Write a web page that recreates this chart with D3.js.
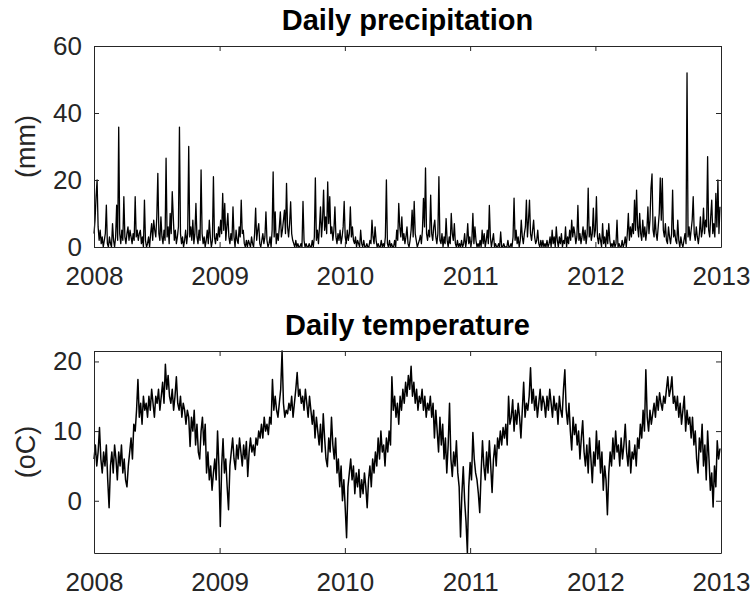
<!DOCTYPE html>
<html>
<head>
<meta charset="utf-8">
<script src="https://cdn.jsdelivr.net/npm/d3@7"></script>
<style>
  body { margin: 0; background: #fff; }
  text { font-family: "Liberation Sans", Arial, sans-serif; }
</style>
</head>
<body>
<script>
// daily precipitation (mm), one reading every 3 days from 1 Jan 2008
var precip2008 = [4,8,15,20,6,2,5,1,3,0, 2,4,12.5,1,0,3,1,0,7,2, 0,3,12.5,2,35.8,4,1,5,2,15,
  3,1,4,6,2,5,3,1,4,2, 15,3,5,2,4,5,1,3,0,14, 2,0,1,3,0,4,7,2,8,5, 3,9,22,4,2,9,3,1,5,2,
  26.5,3,6,1,10,4,16.5,9,2,5, 1,3,6,35.8,4,1,3,0,2,5, 1,4,30,3,6,2,8,1,4,13,
  3,1,5,2,23,4,1,3,0,2, 5,1,8,3,0,2,21,3,1,4, 2,6]
var precip2009 = [3,8,4,16,5,13,2,6,10,3, 1,4,2,12,3,0,5,2,1,6, 3,14,4,5,1,0,2,0,2,1,
  0,3,1,0,4,11.6,2,5,7,1, 0,2,4,1,3,10.5,2,0,1,3, 0,5,22.4,3,10.5,1,4,2,6,10.5,
  3,5,8,11,4,19,6,3,7,13.5, 4,2,1,0,2,0,1,0,0,1, 0,13.6,2,0,1,0,0,1,0,0,
  2,0,3,20.6,2,5,1,6,12,3, 8,17,5,9,4,19.4,7,15,4,6, 2,5,12,3,1,4,2,5,1,3, 6,13.6]
var precip2010 = [3,1,5,2,4,12,3,6,2,1, 3,0,2,1,0,5,1,0,2,0, 0,1,0,0,2,1,8,3,1,6,
  2,0,1,0,0,2,0,1,0,3, 20,1,0,2,0,1,0,0,2,0, 5,2,13,6,3,9,2,4,1,3, 6,1,0,2,5,11,3,13.6,4,2,
  0,1,2,3.5,1,5,14.5,6,23.6,4, 2,5,3,15.5,4,2,6,8,3,1, 4,21,2,1,4,0,3,1,8.5,2,
  0,3,1,10,4,2,7,1,0,2, 0,1,0,2,0,1,4,0,2,7, 1,3]
var precip2011 = [0,2,10,1,6,2,0,1,0,2, 0,5,1,4,0,2,5,1,12.4,3, 0,2,4,0,1,0,0,1,0,4.5,
  0,0,1,0,0,0,2,0,0,1, 0,3,14.6,2,5,1,3,0,2,8, 3,1,4,6,14,3,8,14,4,2, 5,8,3,1,2,5,1,0,2,0,
  2,0,1,0,2,0,1,3,0,5, 1,3,0,6,2,0,3,1,4,0, 2,1,6,0,3,1,5,2,8,3, 6,4,1,3,12.4,2,4,1,3,6,
  2,5,1,4,17.6,3,6,2,4,11.6, 3,5]
var precip2012 = [15,3,1,4,2,0,7,1,3,0, 5,1,7,2,0,1,0,2,0,1, 8,0,1,0,0,2,0,1,3,0,
  4,10,2,6,3,7,4,14,5,17, 6,3,10,4,2,8,3,6,2,5, 12,4,8,17.6,21.8,5,3,9,4,2,
  6,10,20.6,8,20.5,5,3,7,2,1, 6,3,1,4,17,3,5,2,1,8, 2,0,3,1,0,2,4,1,52,3,
  6,2,5,8,15,4,2,6,3,1, 4,9,3,5,11.6,4,8,6,27,5, 3,9,14,4,7,3,16,6,20,4, 12]

// daily temperature (oC), one reading every 4 days from 1 Jan 2008
var temp2008 = [6,8,5,7,10.5,6,4,7,5,8, 3,-1,5,7,4,8,6,3,7,5, 8,4,6,3,2,5,7,9,6,11,
  10,13,17.4,12,14,11,15,13,14,12, 15,13,16,14,12,15,14,16,13,15, 17,14,19.6,16,18,15,14,16,13,15,
  17.8,14,13,15,12,14,13,11,13,12, 7.8,12,10,13,8,11,7,6,10,12, 8,11,4,7,3,5,1.5,4,6,3, 10,5]
var temp2009 = [-3.7,5,8.9,4,6,2,-1.3,5,7,9, 6,4.5,8,6,9,7,5,8,6,8.5, 3.5,7,9,7,8,6.5,9,8,10,9,
  11,9,12,10,11,9.5,12,11,17.4,13, 15,13,12,14,16,21.5,14,12,13,12.5, 14,13,15,12,14,16,18.4,15,16,14,
  15,13,16,14,12,15,13,11,13,9, 12,10,8,11,7,12.5,9,6,4.9,9, 7,12,8,6,9,4,6,2,5,0, 3,-1]
var temp2010 = [-5.3,2,4,6,3,5,1,4,2,4.5, 0.5,3,1,4,2,-1,3,5,2,6, 4,7,5,9,6,10,7,8,5,9,
  7,10,8,17.8,13,15,12,14,11,15, 13,16,14,17,15,18,16,19.3,15,17, 14,16,13,15,14,16,13,15,12,14,
  13,15,12,14,9,13,10,7,12,8, 11,6,9,4,8,14,6,3.5,7,5, 8.6,4,2,-5.2,1,4.9,0,-3,-7.5,2, 5.5]
var temp2011 = [3,9.8,6,4,3,1,-1.7,4,8.6,5, 3,7,4,8.6,5,1.2,6,8,5,9, 7.5,10,8,10.5,9,11,8,15,11,12,
  14.5,10,13,11,14,12,9,13,17,12, 14,13,15,19.1,14,16,13,15,12,14, 16,13,15,14,12,15,13,16,14,12,
  15,13,14,11,15,13,12,16,18.8,13, 11,14,10,7.3,12,9.5,11,8,10,6, 9,11.5,7,5,8,4,9,6,2.6,7, 5]
var temp2012 = [10,6,8.6,4,7,1.5,5,3,-2,4, 7,5,9,6,10,7,8,5,9,6, 8,11,7,5,8.6,4,7,6,8,5,
  9,7.5,11,9,13,10,18.8,12,10,13, 11,12.5,14,12,15,13,15.5,14,13,15, 14,16,17.8,15,16,17.8,14,15,13,15,
  12,14,11,13,15,10,13,11,12,9, 12,8,10,6,4,9,7,11,5,8, 3,10,6,1.5,4,-0.9,5,2,8.6,6, 7.5]

var yearTicks = [2008, 2009, 2010, 2011, 2012, 2013]
var precipTicks = [0, 20, 40, 60]
var tempTicks = [0, 10, 20]

var width = 754, height = 601
var left = 94, right = 721
var axisColor = '#262626'

var start = Date.UTC(2008, 0, 1)
var precipValues = [].concat(precip2008, precip2009, precip2010, precip2011, precip2012)
var tempValues = [].concat(temp2008, temp2009, temp2010, temp2011, temp2012)
var precipData = precipValues.map((v, i) => ({date: d3.utcDay.offset(start, i * 3), value: v}))
var tempData = tempValues.map((v, i) => ({date: d3.utcDay.offset(start, i * 4), value: v}))

var svg = d3.select('body')
            .append('svg')
            .attr('width', width)
            .attr('height', height)

var xscale = d3.scaleUtc()
               .domain([new Date(Date.UTC(yearTicks[0], 0, 1)), new Date(Date.UTC(yearTicks[yearTicks.length - 1], 0, 1))])
               .range([left, right])
var xtickDates = yearTicks.map(y => new Date(Date.UTC(y, 0, 1)))

function panel(data, ydomain, yticks, top, bottom, title, ylabel, lw) {
    var yscale = d3.scaleLinear()
                   .domain(ydomain)
                   .range([bottom, top])

    var g = svg.append('g')

    // line first, box and ticks drawn over it
    var line = d3.line()
                 .x(d => xscale(d.date))
                 .y(d => yscale(d.value))
    g.append('path')
     .datum(data)
     .attr('d', line)
     .attr('fill', 'none')
     .attr('stroke', '#000')
     .attr('stroke-width', lw)
     .attr('stroke-linejoin', 'round')

    // axes with inward ticks on all four sides
    var xb = d3.axisBottom(xscale).tickValues(xtickDates).tickFormat(d3.utcFormat('%Y'))
               .tickSizeInner(-5).tickSizeOuter(0).tickPadding(20)
    var xt = d3.axisTop(xscale).tickValues(xtickDates).tickFormat('')
               .tickSizeInner(-5).tickSizeOuter(0)
    var yl = d3.axisLeft(yscale).tickValues(yticks)
               .tickSizeInner(-5).tickSizeOuter(0).tickPadding(12)
    var yr = d3.axisRight(yscale).tickValues(yticks).tickFormat('')
               .tickSizeInner(-5).tickSizeOuter(0)

    g.append('g').attr('transform', 'translate(0,' + bottom + ')').call(xb)
    g.append('g').attr('transform', 'translate(0,' + top + ')').call(xt)
    g.append('g').attr('transform', 'translate(' + left + ',0)').call(yl)
    g.append('g').attr('transform', 'translate(' + right + ',0)').call(yr)

    g.selectAll('.domain, .tick line')
     .attr('stroke', axisColor)
    g.selectAll('.tick text')
     .attr('fill', axisColor)
     .style('font-size', '26px')
     .style('font-family', '"Liberation Sans", Arial, sans-serif')

    g.append('text')
     .attr('x', (left + right) / 2)
     .attr('y', top - 16)
     .attr('text-anchor', 'middle')
     .style('font-size', '29px')
     .style('font-weight', 'bold')
     .attr('fill', '#000')
     .text(title)

    g.append('text')
     .attr('transform', 'translate(35,' + (top + bottom) / 2 + ') rotate(-90)')
     .attr('text-anchor', 'middle')
     .style('font-size', '27px')
     .attr('fill', axisColor)
     .text(ylabel)
}

panel(precipData, [0, 60], precipTicks, 46, 247, 'Daily precipitation', '(mm)', 1.3)
panel(tempData, d3.extent(tempValues), tempTicks, 351, 553, 'Daily temperature', '(oC)', 1.5)
</script>
</body>
</html>
